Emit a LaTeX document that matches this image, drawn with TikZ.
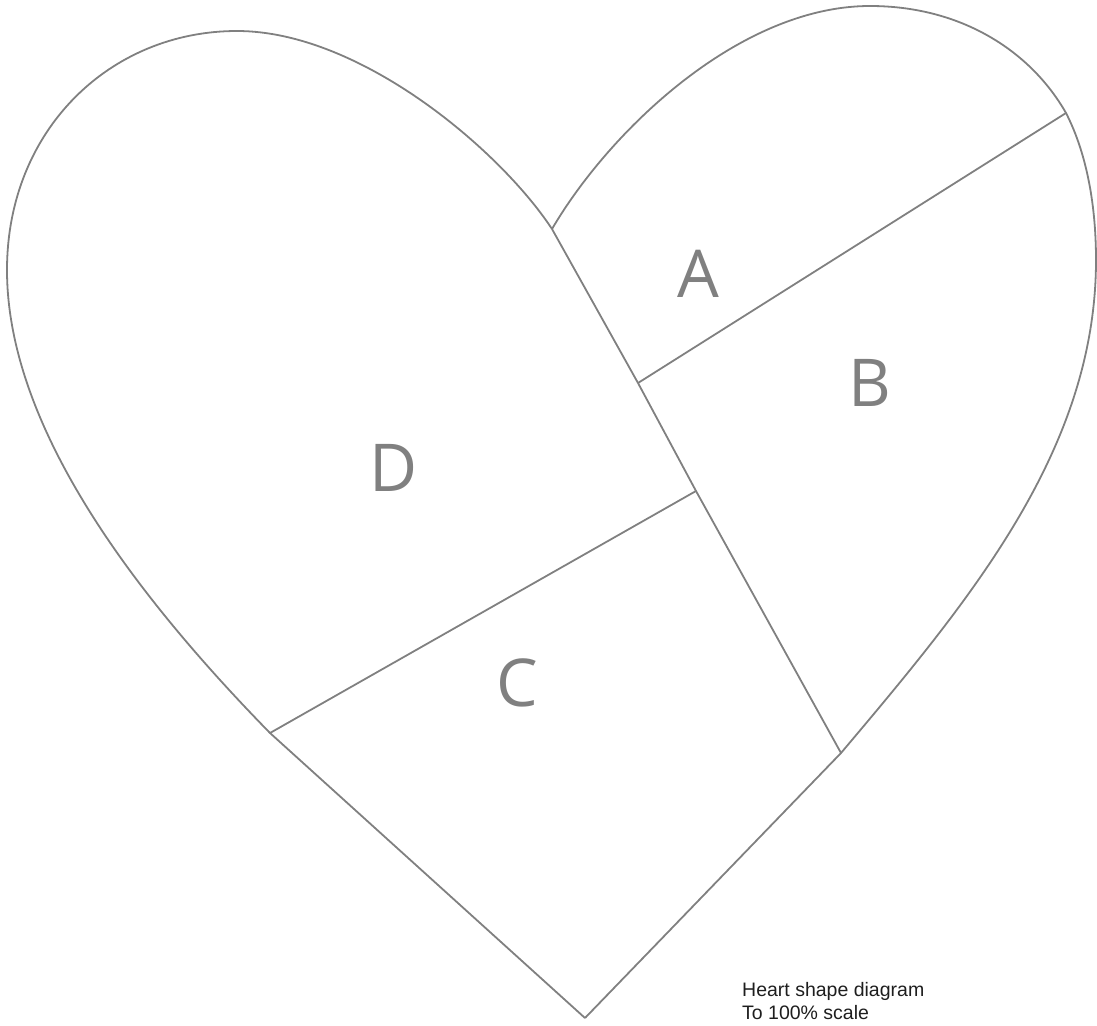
\documentclass[tikz,border=0pt]{standalone}
\usepackage{fontspec}
\setmainfont{Liberation Sans}
\newfontfamily\letterfont{Open Sans}
\usetikzlibrary{positioning}

\definecolor{outlinegray}{RGB}{128,128,128}
\definecolor{notegray}{RGB}{30,30,30}

\tikzset{
  outline/.style={draw=outlinegray, line width=1.8pt, line join=round},
  partlabel/.style={inner sep=0pt, text=outlinegray, font=\letterfont\fontsize{66}{66}\selectfont},
  note/.style={inner sep=0pt, anchor=base west, text=notegray, font=\fontsize{19.5}{23}\selectfont}
}

\begin{document}
\begin{tikzpicture}[x=1pt, y=-1pt]

\useasboundingbox (0,0) rectangle (1097,1025);

% Corner points of the pieces
\coordinate (tip) at (585,1018);
\coordinate (notch) at (552,229);
\coordinate (jCD) at (270,733);
\coordinate (jAB) at (1066,113);
\coordinate (jB) at (841,753);
\coordinate (mAB) at (638,383);
\coordinate (mCD) at (696,491);

% Left lobe
\draw[outline] (tip) -- (jCD)
  .. controls (140,600) and (7,430) .. (7,270)
  .. controls (7,130) and (110,31) .. (237,31)
  .. controls (360,31) and (500,150) .. (notch);

% Right lobe
\draw[outline] (notch)
  .. controls (610,130) and (740,6) .. (870,6)
  .. controls (960,6) and (1030,50) .. (jAB)
  .. controls (1085,150) and (1096,200) .. (1096,260)
  .. controls (1096,450) and (970,600) .. (jB)
  -- (tip);

% Cuts between the pieces
\draw[outline] (notch) -- (mAB) -- (mCD) -- (jB);
\draw[outline] (mAB) -- (jAB);
\draw[outline] (jCD) -- (mCD);

% Piece labels
\node[partlabel] (pieceA) at (698,274) {A};
\node[partlabel] (pieceB) at (870,383) {B};
\node[partlabel] (pieceC) at (517,683) {C};
\node[partlabel] (pieceD) at (394,468) {D};

% Note
\node[note] (title) at (742,996) {Heart shape diagram};
\node[note] (scale) at (742,1019) {To 100\% scale};

\end{tikzpicture}
\end{document}
